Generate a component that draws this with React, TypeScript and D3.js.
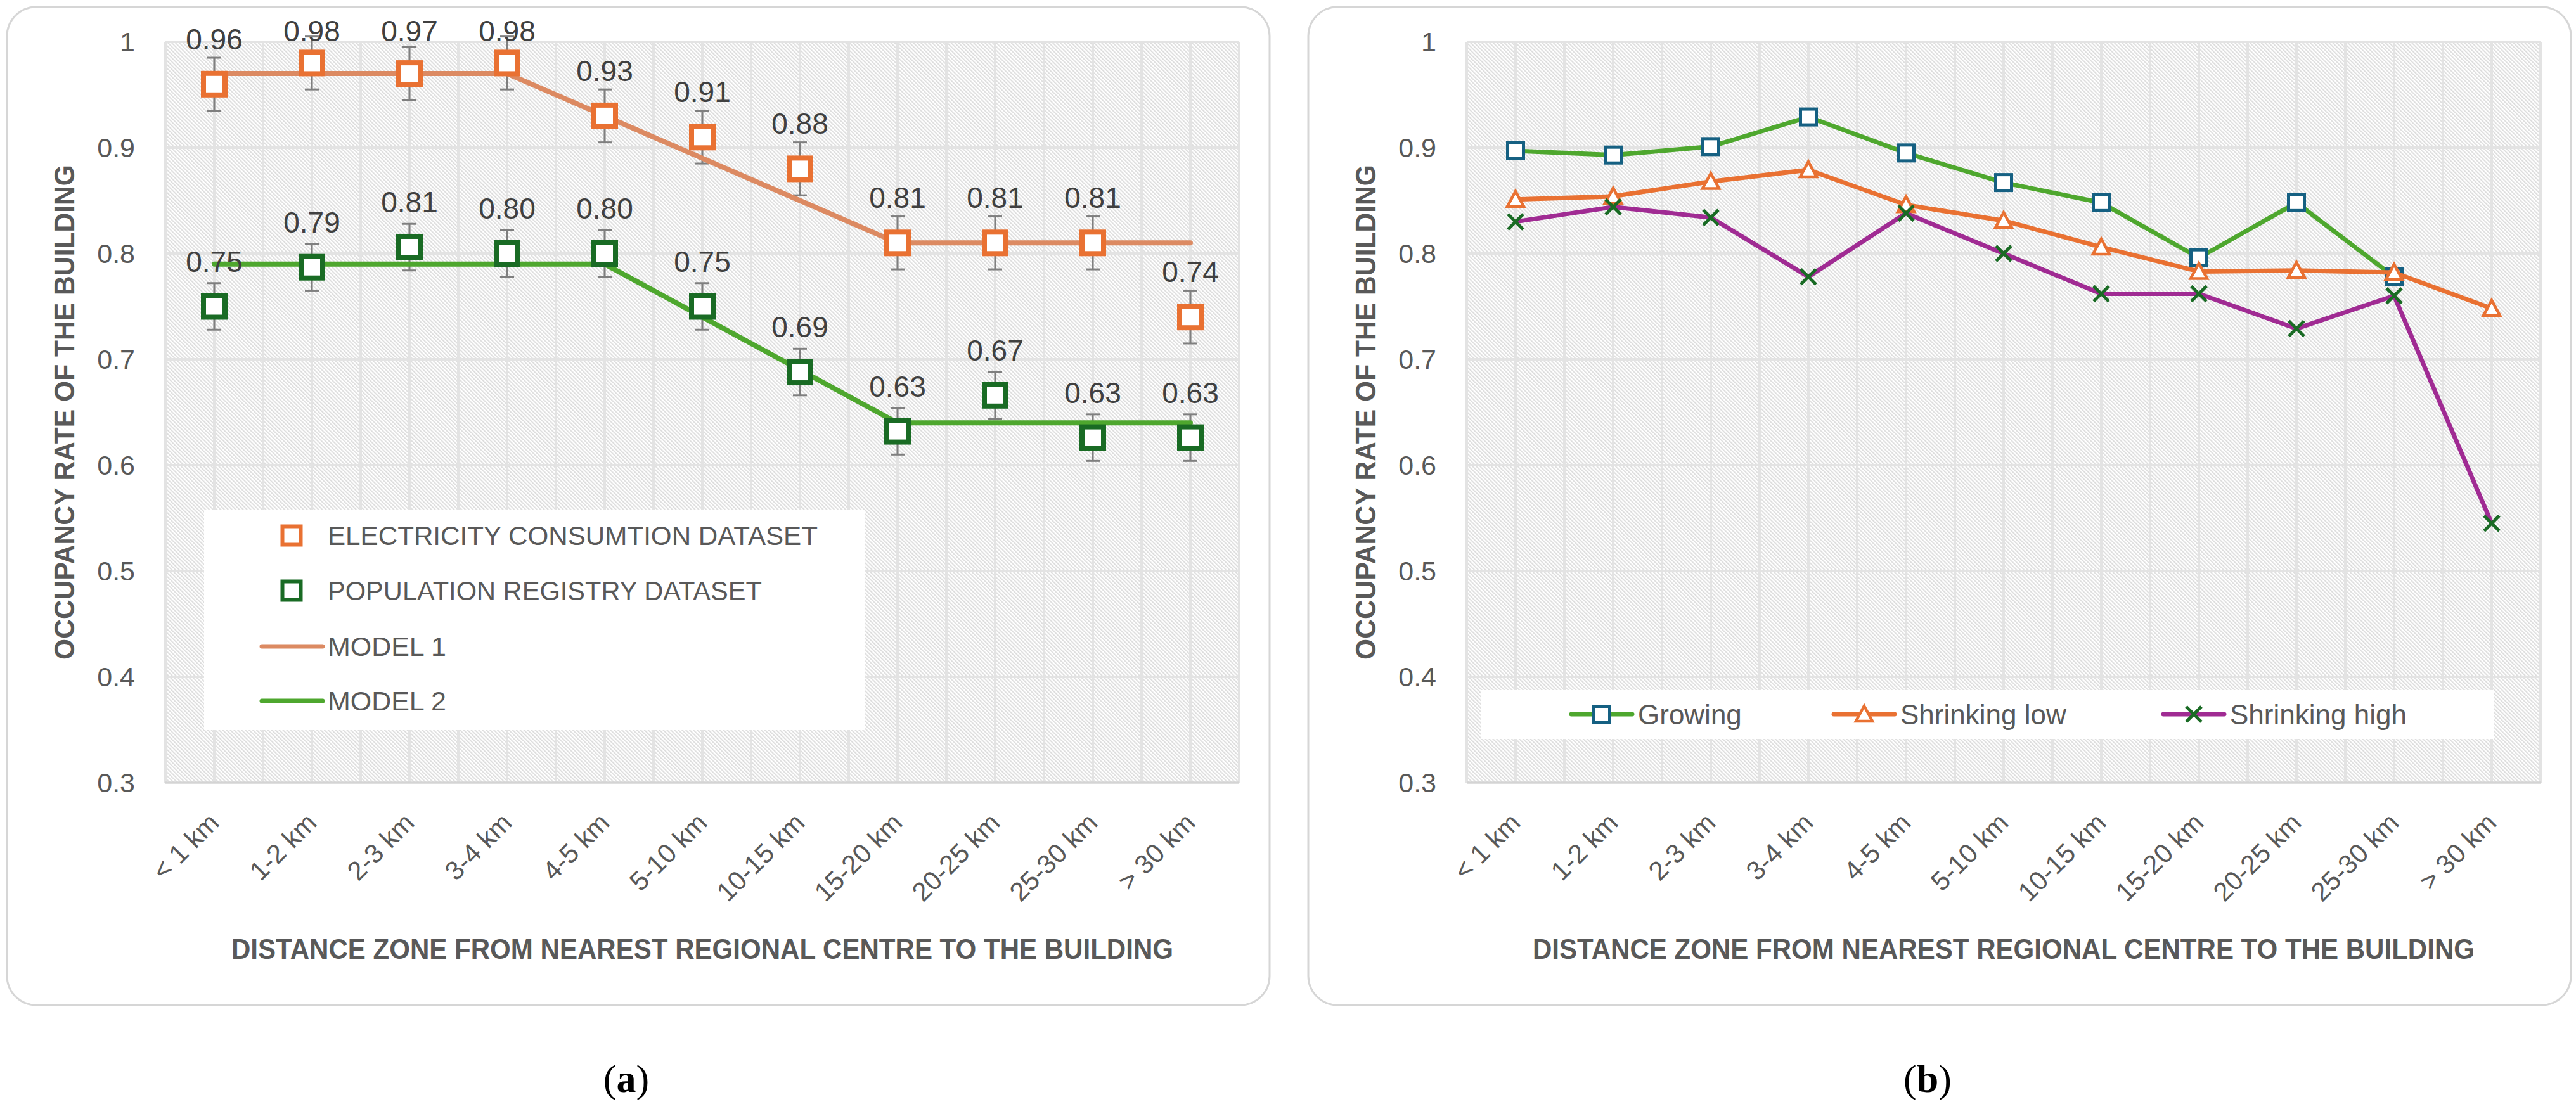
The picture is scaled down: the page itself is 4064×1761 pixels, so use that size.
import React from "react";
import * as d3 from "d3";

// ---------- data ----------
const categories = ["< 1 km", "1-2 km", "2-3 km", "3-4 km", "4-5 km", "5-10 km", "10-15 km", "15-20 km", "20-25 km", "25-30 km", "> 30 km"];
const yTicks = [0.3, 0.4, 0.5, 0.6, 0.7, 0.8, 0.9, 1];

// panel (a)
const electricity = [0.96, 0.98, 0.97, 0.98, 0.93, 0.91, 0.88, 0.81, 0.81, 0.81, 0.74];
const electricityErr = [0.025, 0.025, 0.025, 0.025, 0.025, 0.025, 0.025, 0.025, 0.025, 0.025, 0.025];
const population = [0.75, 0.787, 0.806, 0.8, 0.8, 0.75, 0.688, 0.632, 0.666, 0.626, 0.626];
const populationErr = [0.022, 0.022, 0.022, 0.022, 0.022, 0.022, 0.022, 0.022, 0.022, 0.022, 0.022];
const model1 = [0.97, 0.97, 0.97, 0.97, 0.93, 0.89, 0.85, 0.81, 0.81, 0.81, 0.81];
const model2 = [0.79, 0.79, 0.79, 0.79, 0.79, 0.74, 0.69, 0.64, 0.64, 0.64, 0.64];
const legendA = ["ELECTRICITY CONSUMTION DATASET", "POPULATION REGISTRY DATASET", "MODEL 1", "MODEL 2"];

// panel (b)
const growing = [0.897, 0.893, 0.901, 0.929, 0.895, 0.867, 0.848, 0.796, 0.848, 0.778];
const shrinkingLow = [0.851, 0.854, 0.868, 0.879, 0.846, 0.831, 0.806, 0.783, 0.784, 0.782, 0.748];
const shrinkingHigh = [0.83, 0.844, 0.834, 0.778, 0.838, 0.8, 0.762, 0.762, 0.729, 0.76, 0.545];
const legendB = ["Growing", "Shrinking low", "Shrinking high"];

const yTitle = "OCCUPANCY RATE OF THE BUILDING";
const xTitle = "DISTANCE ZONE FROM NEAREST REGIONAL CENTRE TO THE BUILDING";

// ---------- style / layout ----------
const W = 4064;
const H = 1761;
const PANEL_W = 1992;
const PANEL_H = 1575;
const PANEL_Y = 11;
const PLOT_DX = 250;
const PLOT_W = 1694;
const PLOT_TOP = 66;
const PLOT_BOTTOM = 1235;

const FONT = "'Liberation Sans', Arial, sans-serif";
const TEXT = "#595959";
const LABEL = "#404040";
const C_ORANGE = "#E97132";
const C_MODEL1 = "#DC8A62";
const C_DKGREEN = "#196B24";
const C_GREEN = "#4EA72E";
const C_BLUE = "#156082";
const C_PURPLE = "#A02B93";
const C_GRID = "#e3e3e3";

const fmt2 = d3.format(".2f");
const fmtTick = (v: number) => String(+v.toFixed(1));

function makeScales(px: number) {
  const x = d3.scaleBand<string>().domain(categories).range([px + PLOT_DX, px + PLOT_DX + PLOT_W]);
  const y = d3.scaleLinear().domain([0.3, 1]).range([PLOT_BOTTOM, PLOT_TOP]);
  return { x, y };
}

function Frame({ px, caption }: { px: number; caption: string }) {
  const { x, y } = makeScales(px);
  const x0 = px + PLOT_DX;
  const x1 = x0 + PLOT_W;
  const bw = x.bandwidth();
  const vLines = d3.range(0, categories.length * 2 + 1).map((i) => x0 + (i * bw) / 2);
  const cx = (x0 + x1) / 2;
  return (
    <g>
      <rect x={px} y={PANEL_Y} width={PANEL_W} height={PANEL_H} rx={46} ry={46} fill="#fff" stroke="#d6d6d6" strokeWidth={3} />
      <rect x={x0} y={PLOT_TOP} width={PLOT_W} height={PLOT_BOTTOM - PLOT_TOP} fill="url(#hatch)" />
      {vLines.map((vx, i) => (
        <line key={"v" + i} x1={vx} x2={vx} y1={PLOT_TOP} y2={PLOT_BOTTOM} stroke={C_GRID} strokeWidth={4} />
      ))}
      {yTicks.slice(1).map((t) => (
        <line key={"h" + t} x1={x0} x2={x1} y1={y(t)} y2={y(t)} stroke={C_GRID} strokeWidth={4} />
      ))}
      <line x1={x0} x2={x1} y1={y(0.3)} y2={y(0.3)} stroke="#d4d4d4" strokeWidth={3.5} />
      {yTicks.map((t) => (
        <text key={"yt" + t} x={x0 - 48} y={y(t)} dominantBaseline="central" textAnchor="end" fontFamily={FONT} fontSize={43} fill={TEXT}>
          {fmtTick(t)}
        </text>
      ))}
      {categories.map((c) => (
        <text
          key={"xt" + c}
          transform={`translate(${(x(c) as number) + bw / 2 + 10},${PLOT_BOTTOM + 66}) rotate(-45)`}
          textAnchor="end"
          fontFamily={FONT}
          fontSize={42}
          fill={TEXT}
        >
          {c}
        </text>
      ))}
      <text
        transform={`translate(${px + 90},${(PLOT_TOP + PLOT_BOTTOM) / 2}) rotate(-90)`}
        textAnchor="middle"
        dominantBaseline="central"
        fontFamily={FONT}
        fontWeight="bold"
        fontSize={44}
        fill={TEXT}
        textLength={781}
        lengthAdjust="spacingAndGlyphs"
      >
        {yTitle}
      </text>
      <text
        x={cx}
        y={1497}
        textAnchor="middle"
        dominantBaseline="central"
        fontFamily={FONT}
        fontWeight="bold"
        fontSize={45}
        fill={TEXT}
        textLength={1486}
        lengthAdjust="spacingAndGlyphs"
      >
        {xTitle}
      </text>
      <text x={px + 977} y={1723} textAnchor="middle" fontFamily="'Liberation Serif', 'Times New Roman', serif" fontSize={62} fill="#000">
        <tspan>(</tspan>
        <tspan fontWeight="bold">{caption}</tspan>
        <tspan>)</tspan>
      </text>
    </g>
  );
}

function Square({ cx, cy, s, color, sw }: { cx: number; cy: number; s: number; color: string; sw: number }) {
  return <rect x={cx - s / 2} y={cy - s / 2} width={s} height={s} fill="#fff" stroke={color} strokeWidth={sw} />;
}

function Triangle({ cx, cy, color }: { cx: number; cy: number; color: string }) {
  return (
    <path
      d={`M${cx},${cy - 13} L${cx + 13},${cy + 11} L${cx - 13},${cy + 11} Z`}
      fill="#fff"
      stroke={color}
      strokeWidth={4.5}
      strokeLinejoin="miter"
    />
  );
}

function Cross({ cx, cy, color }: { cx: number; cy: number; color: string }) {
  const a = 12;
  return (
    <path d={`M${cx - a},${cy - a} L${cx + a},${cy + a} M${cx - a},${cy + a} L${cx + a},${cy - a}`} stroke={color} strokeWidth={5} fill="none" />
  );
}

function PanelA({ px }: { px: number }) {
  const { x, y } = makeScales(px);
  const bw = x.bandwidth();
  const cxOf = (i: number) => (x(categories[i]) as number) + bw / 2;
  const line = d3
    .line<number>()
    .x((_, i) => cxOf(i))
    .y((d) => y(d));
  const errorBars = (vals: number[], errs: number[], key: string) =>
    vals.map((v, i) => {
      const cx = cxOf(i);
      const yt = y(v + errs[i]);
      const yb = y(v - errs[i]);
      return (
        <g key={key + i} stroke="#7f7f7f" strokeWidth={3}>
          <line x1={cx} x2={cx} y1={yt} y2={yb} />
          <line x1={cx - 11} x2={cx + 11} y1={yt} y2={yt} />
          <line x1={cx - 11} x2={cx + 11} y1={yb} y2={yb} />
        </g>
      );
    });
  const labels = (vals: number[], key: string) =>
    vals.map((v, i) => (
      <text key={key + i} x={cxOf(i)} y={Math.max(65, y(v) - 55)} textAnchor="middle" fontFamily={FONT} fontSize={46} fill={LABEL}>
        {fmt2(v)}
      </text>
    ));
  const lx = px + 311;
  const rows = [845, 932, 1020, 1106];
  return (
    <g>
      <Frame px={px} caption="a" />
      {errorBars(electricity, electricityErr, "ee")}
      {errorBars(population, populationErr, "pe")}
      <path d={line(model1) || ""} fill="none" stroke={C_MODEL1} strokeWidth={8} strokeLinejoin="round" strokeLinecap="round" />
      <path d={line(model2) || ""} fill="none" stroke={C_GREEN} strokeWidth={8} strokeLinejoin="round" strokeLinecap="round" />
      {electricity.map((v, i) => (
        <Square key={"em" + i} cx={cxOf(i)} cy={y(v)} s={34} color={C_ORANGE} sw={8} />
      ))}
      {population.map((v, i) => (
        <Square key={"pm" + i} cx={cxOf(i)} cy={y(v)} s={34} color={C_DKGREEN} sw={8} />
      ))}
      {labels(electricity, "el")}
      {labels(population, "pl")}
      {/* legend */}
      <rect x={lx} y={804} width={1042} height={348} fill="#fff" />
      <Square cx={px + 449} cy={rows[0]} s={29} color={C_ORANGE} sw={6} />
      <Square cx={px + 449} cy={rows[1]} s={29} color={C_DKGREEN} sw={6} />
      <line x1={px + 402} x2={px + 498} y1={rows[2]} y2={rows[2]} stroke={C_MODEL1} strokeWidth={7} strokeLinecap="round" />
      <line x1={px + 402} x2={px + 498} y1={rows[3]} y2={rows[3]} stroke={C_GREEN} strokeWidth={7} strokeLinecap="round" />
      {legendA.map((t, i) => (
        <text
          key={"la" + i}
          x={px + 506}
          y={rows[i]}
          dominantBaseline="central"
          fontFamily={FONT}
          fontSize={43}
          fill={TEXT}
          textLength={[773, 685, 187, 187][i]}
          lengthAdjust="spacingAndGlyphs"
        >
          {t}
        </text>
      ))}
    </g>
  );
}

function PanelB({ px }: { px: number }) {
  const { x, y } = makeScales(px);
  const bw = x.bandwidth();
  const cxOf = (i: number) => (x(categories[i]) as number) + bw / 2;
  const line = d3
    .line<number>()
    .x((_, i) => cxOf(i))
    .y((d) => y(d));
  const ly = 1127;
  const entries = [
    { x0: px + 415, color: C_GREEN, kind: "sq" },
    { x0: px + 829, color: C_ORANGE, kind: "tri" },
    { x0: px + 1349, color: C_PURPLE, kind: "x" },
  ];
  const marker = (kind: string, cx: number, cy: number, key: string) =>
    kind === "sq" ? (
      <Square key={key} cx={cx} cy={cy} s={25} color={C_BLUE} sw={5} />
    ) : kind === "tri" ? (
      <Triangle key={key} cx={cx} cy={cy} color={C_ORANGE} />
    ) : (
      <Cross key={key} cx={cx} cy={cy} color={C_DKGREEN} />
    );
  return (
    <g>
      <Frame px={px} caption="b" />
      <path d={line(growing) || ""} fill="none" stroke={C_GREEN} strokeWidth={7} strokeLinejoin="round" />
      {growing.map((v, i) => marker("sq", cxOf(i), y(v), "g" + i))}
      <path d={line(shrinkingLow) || ""} fill="none" stroke={C_ORANGE} strokeWidth={7} strokeLinejoin="round" />
      {shrinkingLow.map((v, i) => marker("tri", cxOf(i), y(v), "s" + i))}
      <path d={line(shrinkingHigh) || ""} fill="none" stroke={C_PURPLE} strokeWidth={7} strokeLinejoin="round" />
      {shrinkingHigh.map((v, i) => marker("x", cxOf(i), y(v), "h" + i))}
      {/* legend */}
      <rect x={px + 273} y={1089} width={1597} height={77} fill="#fff" />
      {entries.map((e, i) => (
        <g key={"lb" + i}>
          <line x1={e.x0} x2={e.x0 + 96} y1={ly} y2={ly} stroke={e.color} strokeWidth={7} strokeLinecap="round" />
          {marker(e.kind, e.x0 + 48, ly, "lm" + i)}
          <text x={e.x0 + 105} y={ly} dominantBaseline="central" fontFamily={FONT} fontSize={44} fill={TEXT}>
            {legendB[i]}
          </text>
        </g>
      ))}
    </g>
  );
}

export default function App() {
  return (
    <svg
      width={W}
      height={H}
      viewBox={`0 0 ${W} ${H}`}
      style={{ position: "absolute", left: 0, top: 0, display: "block", background: "#fff" }}
    >
      <defs>
        <pattern id="hatch" patternUnits="userSpaceOnUse" width={4.2} height={4.2} patternTransform="rotate(-45)">
          <rect width={4.2} height={4.2} fill="#ffffff" />
          <line x1={1} x2={1} y1={0} y2={4.2} stroke="#dedede" strokeWidth={2} />
        </pattern>
      </defs>
      <rect width={W} height={H} fill="#fff" />
      <PanelA px={11} />
      <PanelB px={2064} />
    </svg>
  );
}
